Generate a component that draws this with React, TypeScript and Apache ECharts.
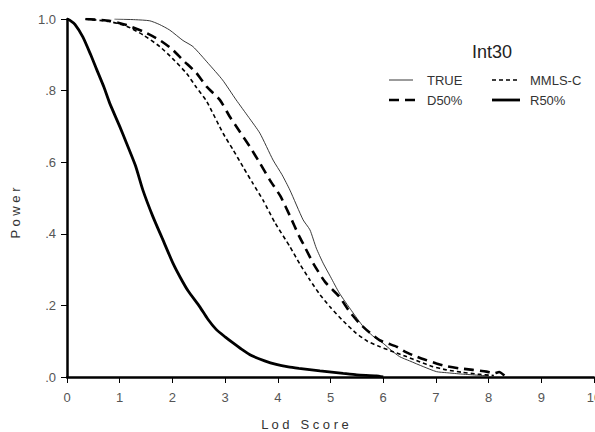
import React, { useEffect, useRef } from "react";
import * as echarts from "echarts";

const xTicks = [0, 1, 2, 3, 4, 5, 6, 7, 8, 9, 10];
const yTickLabels: Record<string, string> = { "0": ".0", "0.2": ".2", "0.4": ".4", "0.6": ".6", "0.8": ".8", "1": "1.0" };
const seriesNames = ["TRUE", "MMLS-C", "D50%", "R50%"];

const trueData: [number, number][] = [
  [0.9, 1.0], [1.3, 0.998], [1.57, 0.995], [1.75, 0.985], [1.95, 0.969], [2.2, 0.94], [2.39, 0.923],
  [2.68, 0.876], [2.95, 0.83], [3.21, 0.774], [3.45, 0.725], [3.66, 0.681], [3.91, 0.606], [4.08, 0.565],
  [4.23, 0.522], [4.48, 0.439], [4.61, 0.411], [4.73, 0.36], [4.86, 0.318], [5.0, 0.28], [5.17, 0.234],
  [5.4, 0.185], [5.62, 0.141], [5.8, 0.115], [6.0, 0.094], [6.15, 0.075], [6.31, 0.057], [6.5, 0.045],
  [6.76, 0.029], [7.01, 0.015], [7.2, 0.012], [7.5, 0.008], [7.8, 0.005], [8.0, 0.003],
];

const d50Data: [number, number][] = [
  [0.35, 1.0], [0.8, 0.995], [1.13, 0.983], [1.45, 0.965], [1.76, 0.941], [2.0, 0.915], [2.2, 0.885],
  [2.45, 0.85], [2.65, 0.811], [2.9, 0.774], [3.09, 0.727], [3.28, 0.685], [3.47, 0.643], [3.65, 0.6],
  [3.85, 0.55], [4.05, 0.505], [4.23, 0.45], [4.4, 0.395], [4.51, 0.364], [4.67, 0.318], [4.9, 0.265],
  [5.17, 0.224], [5.35, 0.185], [5.55, 0.15], [5.75, 0.123], [5.93, 0.103], [6.1, 0.093], [6.25, 0.085],
  [6.41, 0.071], [6.63, 0.057], [6.8, 0.048], [7.01, 0.038], [7.2, 0.03], [7.45, 0.024], [7.7, 0.02],
  [7.96, 0.015], [8.1, 0.01], [8.2, 0.014], [8.3, 0.004],
];

const mmlsData: [number, number][] = [
  [0.35, 1.0], [0.8, 0.993], [1.13, 0.98], [1.45, 0.955], [1.76, 0.923], [2.0, 0.89], [2.27, 0.848],
  [2.45, 0.81], [2.65, 0.77], [2.96, 0.681], [3.15, 0.635], [3.34, 0.587], [3.53, 0.54], [3.72, 0.494],
  [3.95, 0.43], [4.23, 0.364], [4.42, 0.315], [4.61, 0.271], [4.8, 0.23], [4.99, 0.196], [5.25, 0.155],
  [5.49, 0.122], [5.7, 0.1], [5.93, 0.085], [6.2, 0.07], [6.44, 0.057], [6.7, 0.042], [6.94, 0.029],
  [7.2, 0.02], [7.5, 0.013], [7.8, 0.008], [8.1, 0.004],
];

const r50Data: [number, number][] = [
  [0, 1.0], [0.05, 0.997], [0.15, 0.985], [0.3, 0.95], [0.45, 0.9], [0.56, 0.86], [0.7, 0.81],
  [0.81, 0.765], [1.0, 0.7], [1.13, 0.653], [1.3, 0.59], [1.44, 0.522], [1.63, 0.448], [1.82, 0.383],
  [2.01, 0.318], [2.15, 0.278], [2.3, 0.24], [2.52, 0.196], [2.67, 0.162], [2.83, 0.133], [3.0, 0.112],
  [3.15, 0.095], [3.3, 0.079], [3.5, 0.06], [3.75, 0.045], [3.97, 0.035], [4.2, 0.028], [4.4, 0.024],
  [4.8, 0.017], [5.24, 0.01], [5.5, 0.006], [5.87, 0.003], [6.0, 0.0],
];

const FONT = "'Liberation Sans', Arial, sans-serif";

export default function App() {
  const ref = useRef<HTMLDivElement>(null);
  useEffect(() => {
    if (!ref.current) return;
    const chart = echarts.init(ref.current, null, { renderer: "svg" });
    const styles = [
      { color: "#222", width: 0.9, type: "solid" as any },
      { color: "#000", width: 1.6, type: [4, 3] as any },
      { color: "#000", width: 2.6, type: [10, 6] as any },
      { color: "#000", width: 2.8, type: "solid" as any },
    ];
    const datasets = [trueData, mmlsData, d50Data, r50Data];
    const legendPos = [
      { x1: 389, x2: 413, y: 80, tx: 427 },
      { x1: 492, x2: 520, y: 80, tx: 530 },
      { x1: 389, x2: 418, y: 100, tx: 427 },
      { x1: 492, x2: 520, y: 100, tx: 530 },
    ];
    const legendGraphics: any[] = [];
    seriesNames.forEach((name, i) => {
      const p = legendPos[i];
      const s = styles[i];
      legendGraphics.push({
        type: "line",
        shape: { x1: p.x1, y1: p.y, x2: p.x2, y2: p.y },
        style: {
          stroke: s.color,
          lineWidth: s.width,
          lineDash: Array.isArray(s.type) ? s.type : null,
        },
      });
      legendGraphics.push({
        type: "text",
        x: p.tx,
        y: p.y,
        style: {
          text: name,
          fontSize: 13,
          fill: "#333",
          fontFamily: FONT,
          align: "left",
          verticalAlign: "middle",
        },
      });
    });
    chart.setOption({
      animation: false,
      backgroundColor: "#fff",
      grid: {
        left: 67,
        top: 19,
        width: 527,
        height: 358,
        containLabel: false,
        outerBoundsMode: "none",
      },
      title: {
        text: "Int30",
        left: 467,
        top: 38,
        textStyle: { fontSize: 18, fontWeight: "normal", color: "#222", fontFamily: FONT },
      },
      xAxis: {
        type: "value",
        min: xTicks[0],
        max: xTicks[xTicks.length - 1],
        interval: 1,
        splitLine: { show: false },
        axisLine: { show: true, onZero: false, lineStyle: { color: "#000", width: 2.5 } },
        axisTick: { show: true, length: 6, lineStyle: { color: "#000", width: 1 } },
        axisLabel: { margin: 14, fontSize: 13, color: "#555", fontFamily: FONT, hideOverlap: false },
      },
      yAxis: {
        type: "value",
        min: 0,
        max: 1,
        interval: 0.2,
        splitLine: { show: false },
        axisLine: { show: true, onZero: false, lineStyle: { color: "#000", width: 2.5 } },
        axisTick: { show: true, length: 6, lineStyle: { color: "#000", width: 1 } },
        axisLabel: {
          margin: 11,
          fontSize: 13,
          color: "#555",
          fontFamily: FONT,
          formatter: (v: number) => yTickLabels[String(Math.round(v * 10) / 10)] ?? String(v),
        },
      },
      graphic: [
        {
          type: "text",
          x: 15,
          y: 213,
          rotation: Math.PI / 2,
          style: {
            text: "P o w e r",
            fontSize: 13,
            fill: "#333",
            fontFamily: FONT,
            align: "center",
            verticalAlign: "middle",
          },
        },
        {
          type: "text",
          x: 305,
          y: 424,
          style: {
            text: "L o d   S c o r e",
            fontSize: 13,
            fill: "#333",
            fontFamily: FONT,
            align: "center",
            verticalAlign: "middle",
          },
        },
        ...legendGraphics,
      ],
      series: seriesNames.map((name, i) => ({
        name,
        type: "line",
        data: datasets[i],
        symbol: "none",
        smooth: 0.2,
        lineStyle: styles[i],
        itemStyle: { color: styles[i].color },
      })),
    });
    return () => chart.dispose();
  }, []);
  return (
    <div
      ref={ref}
      style={{ position: "absolute", left: 0, top: 0, width: 595, height: 432, background: "#fff" }}
    />
  );
}
